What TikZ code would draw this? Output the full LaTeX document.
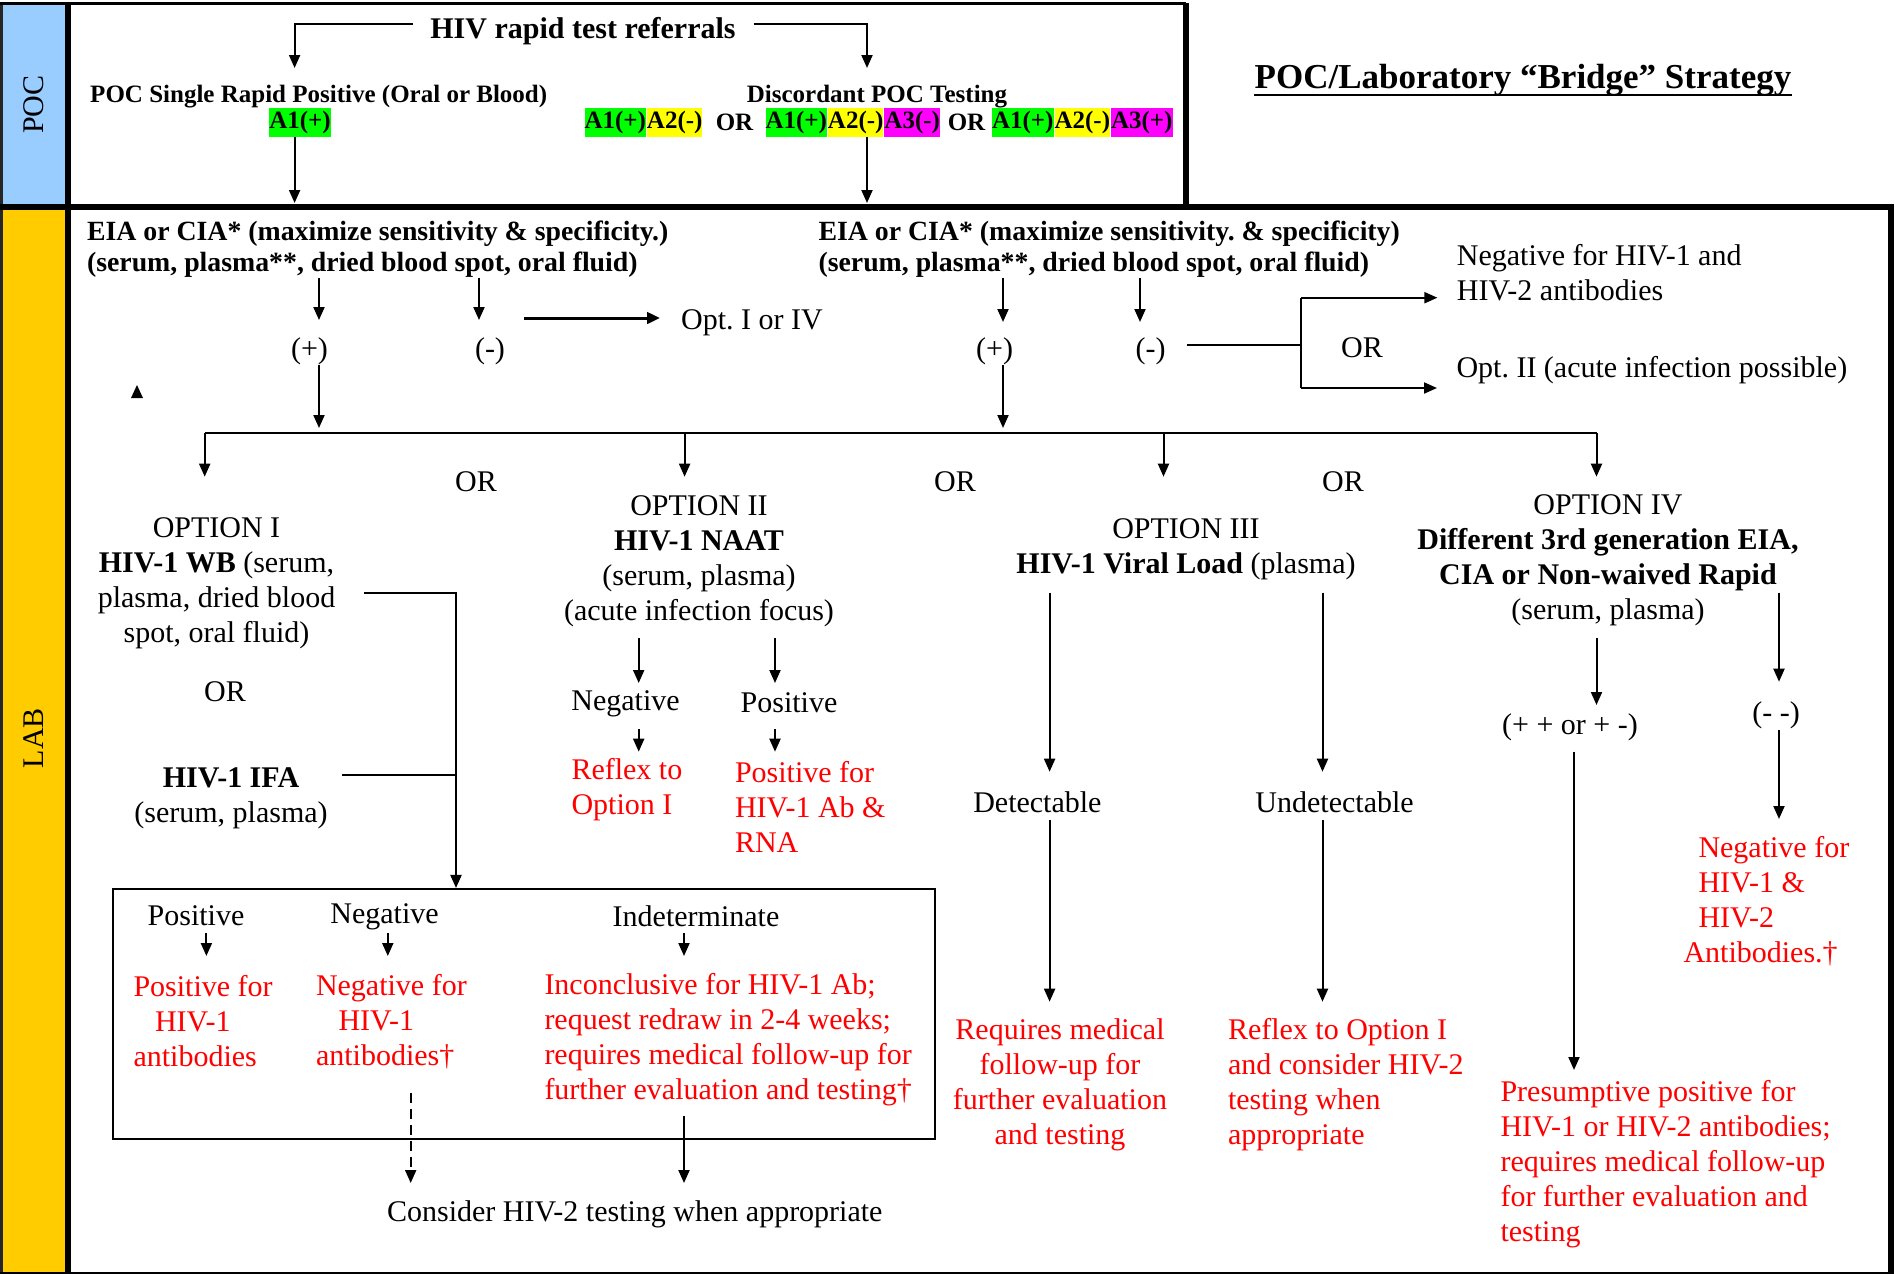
\documentclass[tikz,border=0pt]{standalone}
\usepackage{fontspec}
\setmainfont{Liberation Serif}
\usetikzlibrary{arrows.meta,calc}
\frenchspacing
\definecolor{pocblue}{RGB}{153,204,255}
\definecolor{labyellow}{RGB}{255,204,0}
\definecolor{hlgreen}{RGB}{0,255,0}
\definecolor{hlyellow}{RGB}{255,255,0}
\definecolor{hlmag}{RGB}{255,0,255}
\definecolor{mred}{RGB}{255,0,0}
\tikzset{
  t/.style={inner sep=0pt, font=\fontsize{12}{14}\selectfont},
  tb/.style={inner sep=0pt, font=\bfseries\fontsize{12}{14}\selectfont},
  tbs/.style={inner sep=0pt, font=\bfseries\fontsize{11.12}{12.4}\selectfont},
  tbp/.style={inner sep=0pt, font=\bfseries\fontsize{10}{12}\selectfont},
  rd/.style={t, text=mred},
  hl/.style={inner xsep=0pt, inner ysep=0pt, minimum height=11.6pt, font=\bfseries\fontsize{10}{12}\selectfont},
  ln/.style={line width=0.8pt},
  arr/.style={ln, -{Triangle[length=5.2pt,width=4.4pt]}},
  arrthick/.style={line width=1.2pt, -{Triangle[length=5.2pt,width=4.6pt]}},
  frame/.style={line width=2.4pt},
}
\begin{document}
\begin{tikzpicture}[x=0.4pt,y=-0.4pt]
\useasboundingbox (0,0) rectangle (1895,1274);
% ---------- frame ----------
\fill[pocblue] (0,3) rectangle (68,206.5);
\fill[labyellow] (0,206.5) rectangle (68,1274);
\draw[line width=1.2pt, black!85] (1.5,3) -- (1.5,1274);
\draw[line width=1.4pt] (0,3.5) -- (1186,3.5);
\draw[frame] (68,3) -- (68,1274);
\draw[frame] (1186,3) -- (1186,206.5);
\draw[frame] (0,206.5) -- (1891,206.5) -- (1891,1274);
\draw[line width=1.2pt] (0,1273) -- (1891,1273);
\node[t, rotate=90] (poclab) at (34,104.5) {POC};
\node[t, rotate=90] (lablab) at (34,738) {LAB};
% ---------- POC ----------
\node[tb] (ref) at (583,31) {HIV rapid test referrals};
\coordinate (refL) at (413,24);
\coordinate (refR) at (753.6,24);
\coordinate (pocLa) at (294.6,68);
\coordinate (pocRa) at (867,68);
\draw[arr] (refL) -| (pocLa);
\draw[arr] (refR) -| (pocRa);
\node[tbp] (poc1) at (318.7,97) {POC Single Rapid Positive (Oral or Blood)};
\node[tbp] (poc2) at (877,97) {Discordant POC Testing};
\node[hl, fill=hlgreen] (a1) at (300,122) {A1(+)};
\node[hl, fill=hlgreen, anchor=west] (g1) at (584,122) {A1(+)};
\node[hl, fill=hlyellow, anchor=west] (y1) at (g1.east) {A2(-)};
\node[tbp] (or1) at (734.5,122) {OR};
\node[hl, fill=hlgreen, anchor=west] (g2) at (765,122) {A1(+)};
\node[hl, fill=hlyellow, anchor=west] (y2) at (g2.east) {A2(-)};
\node[hl, fill=hlmag, anchor=west] (m2) at (y2.east) {A3(-)};
\node[tbp] (or2) at (966.5,122) {OR};
\node[hl, fill=hlgreen, anchor=west] (g3) at (991.6,122) {A1(+)};
\node[hl, fill=hlyellow, anchor=west] (y3) at (g3.east) {A2(-)};
\node[hl, fill=hlmag, anchor=west] (m3) at (y3.east) {A3(+)};
\coordinate (labL) at (294.6,203);
\coordinate (labR) at (867,203);
\draw[arr] (a1.south -| labL) -- (labL);
\draw[arr] (y2.south -| labR) -- (labR);
% ---------- title ----------
\node[font=\bfseries\fontsize{14}{16}\selectfont, inner sep=0pt, anchor=base] (title) at (1523,88) {POC/Laboratory “Bridge” Strategy};
\draw[line width=0.9pt] ($(title.base west)+(0,7)$) -- ($(title.base east)+(0,7)$);
% ---------- EIA ----------
\node[tbs, align=left, anchor=west] (eia1) at (86.5,249.5) {EIA or CIA* (maximize sensitivity \& specificity.)\\(serum, plasma**, dried blood spot, oral fluid)};
\node[tbs, align=left, anchor=west] (eia2) at (818,249.5) {EIA or CIA* (maximize sensitivity. \& specificity)\\(serum, plasma**, dried blood spot, oral fluid)};
\node[t] (plusL) at (309.5,351) {(+)};
\node[t] (minusL) at (490,351) {(-)};
\node[t] (plusR) at (994.6,351) {(+)};
\node[t] (minusR) at (1150.5,351) {(-)};
\coordinate (e1p) at (319,320);
\coordinate (e1m) at (479,320);
\coordinate (e2p) at (1003,322);
\coordinate (e2m) at (1140,322);
\draw[arr] (eia1.south -| e1p) -- (e1p);
\draw[arr] (eia1.south -| e1m) -- (e1m);
\draw[arr] (eia2.south -| e2p) -- (e2p);
\draw[arr] (eia2.south -| e2m) -- (e2m);
\node[t, anchor=west] (optIIV) at (680.6,323) {Opt. I or IV};
\coordinate (o1s) at (524,318);
\coordinate (o1e) at (660,318);
\draw[arrthick] (o1s) -- (o1e);
\coordinate (distL) at (319,428);
\coordinate (distR) at (1003,428);
\draw[arr] (319,365) -- (distL);
\draw[arr] (1003,365) -- (distR);
\fill (137,385) -- (131,398) -- (143,398) -- cycle;
% right branch
\coordinate (brX) at (1301,345);
\coordinate (brT) at (1301,297.7);
\coordinate (brB) at (1301,388);
\node[t, align=left, anchor=west] (neg12) at (1456.4,272.5) {Negative for HIV-1 and\\HIV-2 antibodies};
\node[t, anchor=west] (optII) at (1456,370) {Opt. II (acute infection possible)};
\draw[ln] (1187,345) -- (brX);
\draw[ln] (brT) -- (brB);
\draw[arr, shorten >=7.6pt] (brT) -- (brT -| neg12.west);
\draw[arr, shorten >=7.6pt] (brB) -- (brB -| optII.west);
\node[t] (orR) at (1362,348) {OR};
% ---------- distribution ----------
\coordinate (d1) at (204.7,433.3);
\coordinate (d4) at (1596.5,433.3);
\coordinate (o1a) at (204.7,476.7);
\coordinate (o2a) at (684.6,476.7);
\coordinate (o3a) at (1163.5,476.7);
\coordinate (o4a) at (1596.5,476.7);
\draw[ln] (d1) -- (d4);
\draw[arr] (d1) -- (o1a);
\draw[arr] (o2a |- d1) -- (o2a);
\draw[arr] (o3a |- d1) -- (o3a);
\draw[arr] (d4) -- (o4a);
\node[t] (orA) at (476,481.7) {OR};
\node[t] (orB) at (955,481.7) {OR};
\node[t] (orC) at (1343,481.7) {OR};
% ---------- option I ----------
\node[t, align=center] (opt1) at (216.5,583) {OPTION I\\\textbf{HIV-1 WB} (serum,\\plasma, dried blood\\spot, oral fluid)};
\node[t] (orI) at (225,691.7) {OR};
\node[t, align=center] (ifa) at (231,798.5) {\textbf{HIV-1 IFA}\\(serum, plasma)};
\node[draw, line width=0.8pt, minimum width=328.8pt, minimum height=99.9pt, inner sep=0pt] (resbox) at (524.4,1013.85) {};
\coordinate (wbS) at (364,593);
\coordinate (wbJ) at (456,593);
\coordinate (ifaS) at (342.4,775);
\draw[arr] (wbS) -- (wbJ) -- (resbox.north -| wbJ);
\draw[ln] (ifaS) -- (ifaS -| wbJ);
% ---------- option II ----------
\node[t, align=center] (opt2) at (699,561) {OPTION II\\\textbf{HIV-1 NAAT}\\(serum, plasma)\\(acute infection focus)};
\node[t] (neg2) at (625.5,703.7) {Negative};
\node[t] (pos2) at (789,702.7) {Positive};
\draw[arr] (638.7,638) -- (638.7,683);
\draw[arr] (775,638) -- (775,683);
\draw[arr] (638.7,729) -- (638.7,751.7);
\draw[arr] (775,729) -- (775,751.7);
\node[rd, align=left, anchor=west] (refl2) at (571,789.5) {Reflex to\\Option I};
\node[rd, align=left, anchor=west] (pos2r) at (734.5,807) {Positive for\\HIV-1 Ab \&\\RNA};
% ---------- option III ----------
\node[t, align=center] (opt3) at (1186,549) {OPTION III\\\textbf{HIV-1 Viral Load} (plasma)};
\node[t] (det) at (1037.4,802.7) {Detectable};
\node[t] (undet) at (1334.6,802.7) {Undetectable};
\draw[arr] (1049.6,592.7) -- (1049.6,771.7);
\draw[arr] (1322.5,592.7) -- (1322.5,771.7);
\draw[arr] (1049.6,820) -- (1049.6,1001.7);
\draw[arr] (1322.5,820) -- (1322.5,1001.7);
\node[rd, align=center] (req3) at (1060,1084.5) {Requires medical\\follow-up for\\further evaluation\\and testing};
\node[rd, align=left, anchor=west] (refl3) at (1227.5,1084.5) {Reflex to Option I\\and consider HIV-2\\testing when\\appropriate};
% ---------- option IV ----------
\node[t, align=center] (opt4) at (1608,560) {OPTION IV\\\textbf{Different 3rd generation EIA,}\\\textbf{CIA or Non-waived Rapid}\\(serum, plasma)};
\node[t] (ppm) at (1570,727.7) {(+ + or + -)};
\node[t] (mm) at (1776,715) {(- -)};
\draw[arr] (1596.5,638) -- (1596.5,705);
\draw[arr] (1574,751.7) -- (1574,1070);
\draw[arr] (1779,592.7) -- (1779,681.7);
\draw[arr] (1779,730) -- (1779,819);
\node[rd, align=left, anchor=west] (presum) at (1500,1164) {Presumptive positive for\\HIV-1 or HIV-2 antibodies;\\requires medical follow-up\\for further evaluation and\\testing};
\node[rd, align=left, anchor=west] (neg4) at (1683,901.5) {\hspace*{6pt}Negative for\\\hspace*{6pt}HIV-1 \&\\\hspace*{6pt}HIV-2\\Antibodies.†};
% ---------- results box ----------
\node[t] (rpos) at (196,916) {Positive};
\node[t] (rneg) at (384.5,917) {Negative};
\node[t] (rind) at (696,916) {Indeterminate};
\draw[arr] (206.4,933) -- (206.4,956);
\draw[arr] (387.8,933) -- (387.8,956);
\draw[arr] (684,933) -- (684,956);
\node[rd, align=left, anchor=west] (rposr) at (133,1021.5) {Positive for\\\hspace*{8.6pt}HIV-1\\antibodies};
\node[rd, align=left, anchor=west] (rnegr) at (315.5,1021.5) {Negative for\\\hspace*{9pt}HIV-1\\antibodies†};
\node[rd, align=left, anchor=west] (rindr) at (544,1039.8) {Inconclusive for HIV-1 Ab;\\request redraw in 2-4 weeks;\\requires medical follow-up for\\further evaluation and testing†};
\node[t] (cons) at (634.8,1214) {Consider HIV-2 testing when appropriate};
\draw[arr, dash pattern=on 4pt off 2.4pt] (410.7,1093) -- (410.7,1183);
\draw[arr] (684,1116) -- (684,1183);
\end{tikzpicture}
\end{document}
